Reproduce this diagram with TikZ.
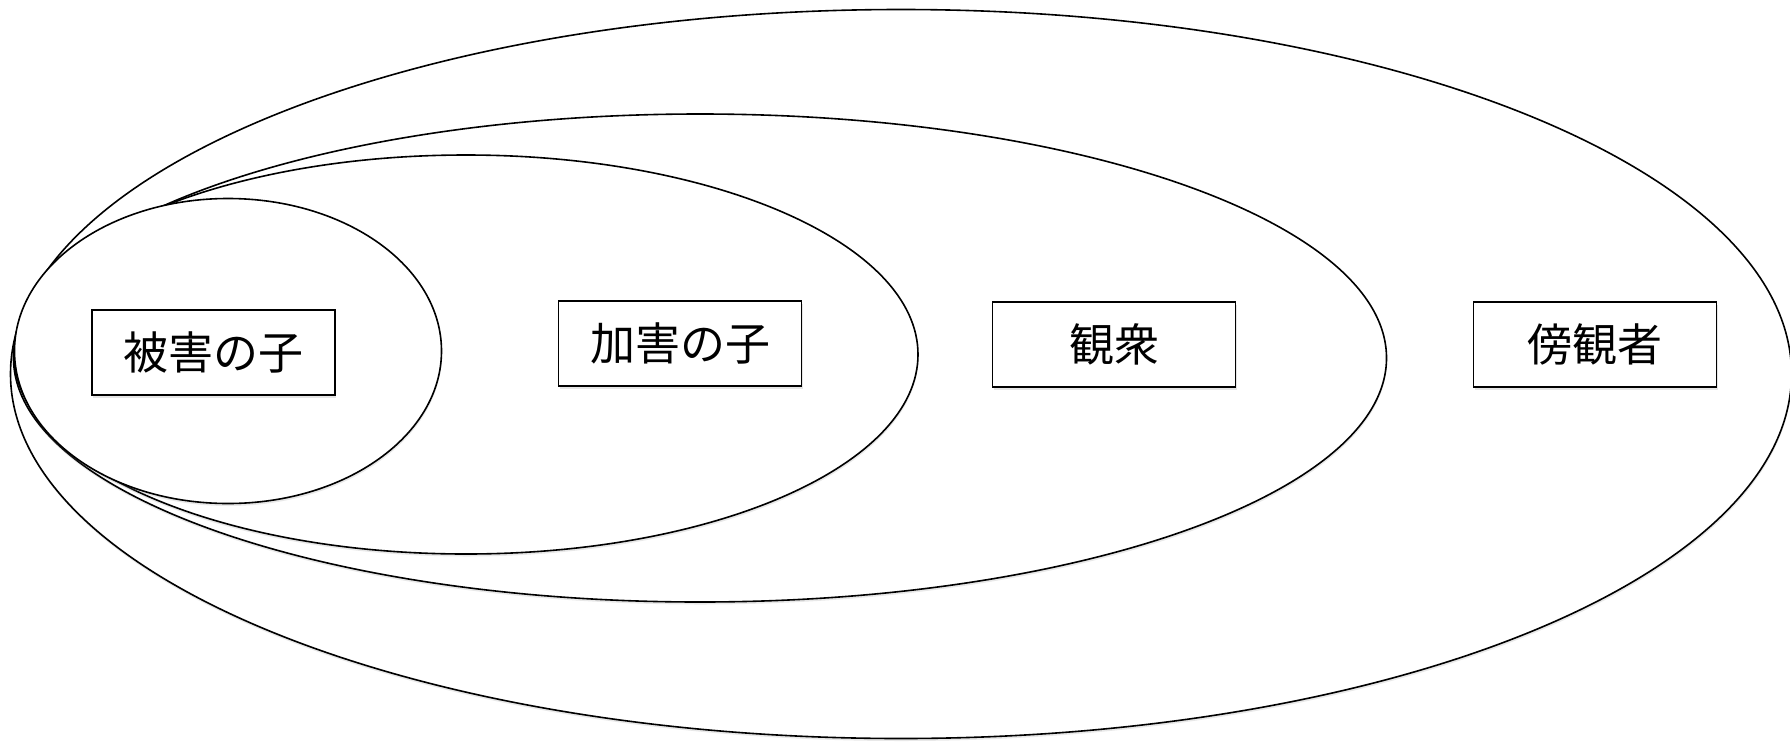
\documentclass[tikz,border=0pt]{standalone}
\usepackage{fontspec}
\newfontfamily\jp{Noto Sans CJK JP}
\usetikzlibrary{shapes.geometric,shadows}
\begin{document}
\begin{tikzpicture}[x=1pt,y=-1pt,
  ring/.style={ellipse,draw=black,line width=1.6pt,fill=white,inner sep=0pt,
    drop shadow={shadow xshift=0.5pt,shadow yshift=-2.5pt,opacity=0.18}},
  label box/.style={rectangle,draw=black,line width=1.8pt,fill=white,inner sep=0pt,
    minimum width=243pt,minimum height=85pt,
    font=\jp\fontsize{45}{50}\selectfont,
    drop shadow={shadow xshift=1pt,shadow yshift=-3pt,opacity=0.2}}]
\useasboundingbox (0,0) rectangle (1790,742);
\fill[white] (0,0) rectangle (1790,742);
\node[ring,minimum width=1781pt,minimum height=729pt] (bystander) at (901,374) {};
\node[ring,minimum width=1373pt,minimum height=488pt] (audience) at (700,358) {};
\node[ring,minimum width=904pt,minimum height=399pt] (bully) at (466,354.5) {};
\node[ring,minimum width=427pt,minimum height=305pt] (victim) at (228,351) {};
\node[label box] (bv) at (213.5,352.5) {被害の子};
\node[label box] (bb) at (680,343.5) {加害の子};
\node[label box] (ba) at (1114,344.5) {観衆};
\node[label box] (bs) at (1595,344.5) {傍観者};
\end{tikzpicture}
\end{document}
